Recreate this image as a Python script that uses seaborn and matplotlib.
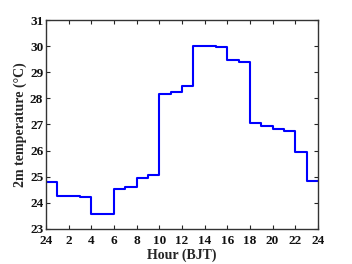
import numpy as np
import pandas as pd
import matplotlib
matplotlib.use("Agg")
import matplotlib.pyplot as plt
import seaborn as sns

# hourly 2m temperature (step per hour, BJT)
hours = list(range(0, 25))
temps = [24.78, 24.27, 24.26, 24.23, 23.58, 23.58, 24.54, 24.61, 24.95, 25.08,
         28.15, 28.24, 28.48, 30.00, 30.02, 29.98, 29.48, 29.40, 27.05, 26.96,
         26.81, 26.75, 25.93, 24.83, 24.83]
xtick_vals = list(range(0, 25, 2))
xtick_labels = ["24"] + [str(h) for h in range(2, 25, 2)]
ytick_vals = list(range(23, 32))

sns.set_style("ticks")
plt.rcParams["font.family"] = ["Liberation Serif", "DejaVu Serif"]
plt.rcParams["font.weight"] = "bold"

df = pd.DataFrame({"hour": hours, "temp": temps})

fig = plt.figure(figsize=(3.52, 2.64), dpi=100)
ax = fig.add_axes([0.131, 0.133, 0.772, 0.791])
sns.lineplot(data=df, x="hour", y="temp", drawstyle="steps-post",
             color="#0000ff", linewidth=1.5, ax=ax)

ax.set_xlim(0, 24)
ax.set_ylim(23, 31)
ax.set_xticks(xtick_vals)
ax.set_xticklabels(xtick_labels)
ax.set_yticks(ytick_vals)
ax.tick_params(direction="in", top=True, right=True, length=3, width=0.8,
               labelsize=9.5, labelcolor="#111111")
ax.tick_params(axis="x", pad=4.5)
ax.tick_params(axis="y", pad=2)
for lab in ax.get_xticklabels() + ax.get_yticklabels():
    lab.set_fontweight("bold")
for sp in ax.spines.values():
    sp.set_visible(True)
    sp.set_linewidth(1.0)
    sp.set_color("#333333")
ax.set_xlabel("Hour (BJT)", fontsize=10, fontweight="bold", labelpad=1)
ax.set_ylabel("2m temperature (\u00b0C)", fontsize=10, fontweight="bold", labelpad=2)

fig.savefig("out.png", dpi=100)
